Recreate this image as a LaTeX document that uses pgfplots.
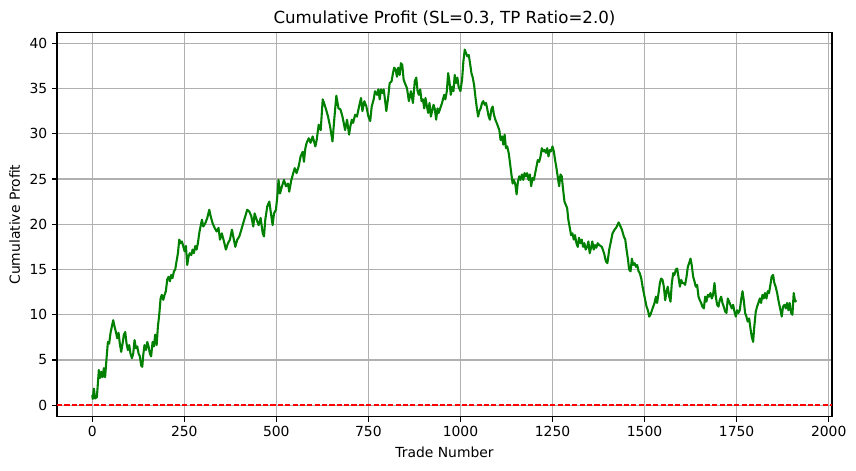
\documentclass[border=0pt]{standalone}
\usepackage{fontspec}
\setmainfont{DejaVu Sans}
\usepackage{pgfplots}
\pgfplotsset{compat=1.18}
\definecolor{gridgray}{HTML}{B0B0B0}
\definecolor{mplgreen}{HTML}{008000}
\definecolor{mplred}{HTML}{FF0000}
\begin{document}
\begin{tikzpicture}
\useasboundingbox (-41.04pt,-38.4pt) rectangle (575.28pt,300pt);
\begin{axis}[
  at={(0,0)}, anchor=south west,
  scale only axis, width=558pt, height=276.5pt,
  xmin=-95.6, xmax=2009, ymin=-1.26, ymax=41.17,
  xtick={0,250,...,2000}, ytick={0,5,...,40},
  grid=major, major grid style={color=gridgray, line width=0.8pt},
  axis line style={line width=0.8pt},
  tick style={black, line width=0.8pt}, tick align=outside, major tick length=3.5pt,
  tick pos=left,
  ticklabel style={font=\fontsize{10}{12}\selectfont},
  /pgf/number format/assume math mode=true,
  /pgf/number format/1000 sep={},
  scaled ticks=false,
  title={Cumulative Profit (SL=0.3, TP Ratio=2.0)},
  title style={font=\fontsize{12}{14}\selectfont, yshift=-4.3pt},
  xlabel={Trade Number}, ylabel={Cumulative Profit},
  label style={font=\fontsize{10}{12}\selectfont},
]
\addplot[draw=mplgreen, line width=1.5pt, line join=round, mark=none] coordinates {
(0,1.1) (1.5,0.7) (4.5,1.85) (8,0.75) (12.7,0.9) (15.4,2.4) (18,3.9) (20.8,3.0) (24.5,3.7) (28,3.1)
(31.7,4.1) (35,3.1) (39,5.2) (42.6,7.0) (46,6.8) (49.8,8.0) (53.4,8.7) (57,9.4) (60.7,8.7) (64.3,8.1)
(68,7.4) (71.6,8.0) (75,6.8) (78.8,5.9) (82.4,6.8) (86,7.8) (89.7,8.1) (93.3,6.8) (97,6.1) (100.5,6.65)
(104,5.7) (107.8,5.2) (111.4,5.7) (115,7.2) (118.7,6.3) (122.3,6.5) (126,5.7) (129.5,5.4) (133,4.4) (136,4.25)
(138.6,5.55) (142,6.65) (146,6.1) (149.5,7.0) (153,6.5) (156.7,5.7) (160,5.4) (164,7.0) (167.6,6.5) (171,7.8)
(175,6.65) (178.4,8.7) (182,10.0) (185.7,11.8) (189,12.2) (193,11.65) (196.5,12.2) (200,12.6) (203.8,13.9) (207.4,14.2)
(211,13.7) (214.7,14.4) (218,14.05) (222,14.8) (225.5,15.0) (229,15.9) (232.8,16.8) (236.4,18.3) (240,17.9) (243.7,18.1)
(247,17.6) (251,17.0) (254.5,17.6) (258,15.5) (261.8,16.45) (265,16.8) (269,16.6) (272.6,17.2) (276,16.8) (280,17.6)
(283.5,17.2) (287,17.9) (290.8,19.05) (294.4,19.8) (298,20.5) (301.6,19.75) (307,20.1) (312.5,20.7) (318,21.6) (321.6,20.9)
(327,20.1) (332.4,19.6) (338,19.2) (343,19.6) (347,18.3) (352,19.0) (357.8,18.1) (363,17.2) (368.7,17.9) (374,18.3)
(379.5,19.4) (383,18.65) (388.6,17.5) (394,18.3) (399.5,18.65) (405,19.4) (410,20.1) (415.8,20.9) (421,21.6) (426.6,21.4)
(432,20.9) (437.5,19.75) (441,21.2) (446.6,20.5) (452,19.9) (457.4,20.7) (463,19.0) (466.5,18.65) (470,20.5) (475.5,22.0)
(481,22.5) (486.4,20.9) (490,19.9) (493.7,21.2) (499,21.6) (502.7,23.1) (506,24.9) (510,23.4) (515.4,24.2) (520.8,24.9)
(526,24.2) (531.7,24.5) (535,23.6) (540.8,24.9) (546,25.65) (550,26.2) (555,25.65) (560.7,26.4) (566,27.5) (571.6,28.0)
(575,26.9) (578.8,28.4) (582.4,29.0) (588,29.5) (593,29.0) (598.7,29.7) (602,29.2) (606,28.6) (609.6,29.3) (615,31.0)
(620.5,30.4) (626,33.8) (629.5,33.4) (635,32.7) (640.4,31.9) (646,30.8) (652.5,29.15) (658,31.9) (663,34.2) (668.8,32.8)
(674,32.7) (679.6,31.9) (683,31.2) (686.8,30.4) (692,31.55) (697.6,29.9) (701,30.8) (705,31.55) (708.5,31.2) (714,32.1)
(719,31.9) (724.7,33.0) (730,33.95) (733.8,32.5) (739,33.6) (744.6,33.0) (750,31.9) (755,31.4) (759,33.0) (764.4,33.8)
(768,34.7) (773.5,34.3) (777,34.9) (780.7,33.8) (784.3,34.9) (788,34.5) (791.5,34.9) (795,33.8) (798.7,32.5) (804,34.1)
(807.8,35.6) (813,35.8) (816.8,36.7) (820,37.3) (824,37.1) (827.6,36.3) (831,37.3) (835,36.5) (838.4,37.8) (842,37.6)
(845.7,36.0) (849,35.6) (854.7,35.05) (860,33.6) (865.5,34.7) (871,33.4) (876,35.8) (880,36.2) (883.6,34.7) (887,34.3)
(890.8,34.9) (894.4,33.6) (898,33.8) (901.6,32.8) (905,33.95) (909,33.0) (912.5,32.3) (916,33.4) (919.7,31.9) (923,32.5)
(927,33.2) (930.5,32.7) (934,31.55) (937.7,32.8) (941,32.3) (945,32.8) (950,33.4) (955.8,34.3) (959,33.8) (963,34.7)
(966.6,36.7) (970,35.8) (973.8,34.3) (977.4,35.2) (981,34.7) (984.5,36.5) (988,35.6) (991.7,36.2) (995,35.2) (1000,34.7)
(1004.5,36.0) (1008,38.0) (1011.7,39.3) (1015,38.9) (1019,38.55) (1022.6,38.7) (1026,37.8) (1029.8,36.7) (1033.4,36.2) (1037,35.4)
(1040.6,34.1) (1044,33.0) (1048,31.9) (1051.4,32.5) (1055,32.8) (1058.7,33.4) (1062,33.6) (1066,33.2) (1069.5,33.4) (1073,32.7)
(1076.7,31.9) (1080,31.55) (1084,32.7) (1087.5,33.0) (1091,32.1) (1094.8,31.55) (1098.4,31.2) (1102,30.8) (1105.6,30.4) (1109,29.3)
(1113,29.7) (1116.4,28.8) (1120,29.9) (1123.6,28.4) (1127,28.6) (1130.9,27.9) (1134.5,26.8) (1138,25.65) (1141.7,24.5) (1145,24.9)
(1149,24.4) (1152.5,23.3) (1156,24.7) (1159.7,25.3) (1163,24.9) (1167,25.5) (1170.6,24.9) (1174,25.65) (1177.8,25.3) (1181,25.65)
(1185,24.9) (1188.6,25.5) (1192,24.2) (1195.9,25.1) (1199.5,24.9) (1203,25.65) (1206.7,26.4) (1210,27.1) (1213.9,26.9) (1217.5,27.5)
(1221,28.4) (1224.7,28.05) (1228,28.2) (1232,27.9) (1235.5,28.4) (1239,27.5) (1242.8,28.2) (1246,28.05) (1250,28.6) (1253.6,28.05)
(1257,27.1) (1260.8,26.2) (1264,25.3) (1268,24.2) (1271.7,25.5) (1275,25.3) (1278.9,23.8) (1282.5,22.5) (1286,22.15) (1289.7,21.8)
(1293,20.5) (1297,19.6) (1300.4,18.8) (1304,19.0) (1307.8,18.3) (1311,18.8) (1315,17.9) (1318.6,17.5) (1322,18.5) (1326,17.9)
(1329.5,18.3) (1333,17.5) (1336.6,17.9) (1340,17.2) (1344,17.5) (1347.5,18.1) (1351,16.8) (1354.7,17.4) (1358,18.1) (1362,17.2)
(1365.5,17.7) (1369,17.4) (1372.7,17.9) (1377,17.7) (1384,17.5) (1390,16.8) (1395,15.9) (1399,15.7) (1404,17.2) (1409.6,18.3)
(1413,19.0) (1418.6,19.4) (1424,19.7) (1429.5,20.2) (1433,19.9) (1438.5,19.4) (1444,18.6) (1447.6,18.3) (1451,17.2) (1455,16.1)
(1458,15.0) (1462,14.8) (1465.6,16.2) (1469,15.5) (1473,15.7) (1476.5,15.3) (1480,15.5) (1483.7,14.8) (1487,14.6) (1491,14.0)
(1494.6,13.1) (1498,12.4) (1501.8,11.6) (1505.4,10.9) (1509,10.5) (1512.7,9.8) (1516,10.0) (1520,10.5) (1523.5,10.9) (1527,11.3)
(1530.7,12.0) (1534,11.3) (1538,12.4) (1541.6,13.5) (1545,14.0) (1548.8,13.85) (1552.4,13.1) (1556,11.6) (1559.7,12.6) (1563,13.1)
(1567,12.0) (1570.5,11.45) (1574,13.5) (1577.8,14.6) (1581,14.4) (1585,15.0) (1588.6,15.1) (1592,14.2) (1596,13.1) (1599.5,13.85)
(1603,13.5) (1606.7,13.5) (1610,13.3) (1614,14.2) (1617.5,15.3) (1621,15.7) (1624.8,16.2) (1628,15.5) (1632,14.2) (1635.5,13.7)
(1639,13.1) (1642.7,13.3) (1646.5,12.0) (1650,11.6) (1653.7,11.3) (1657,10.9) (1661,10.7) (1664.5,12.0) (1668,11.45) (1671.8,12.2)
(1675.4,12.0) (1679,12.4) (1682.6,11.8) (1686,12.2) (1690,13.5) (1693.5,12.0) (1697,11.1) (1700.7,10.9) (1704,11.6) (1708,12.0)
(1711.5,11.3) (1715,10.9) (1718.8,10.35) (1722.4,10.2) (1726,11.8) (1729.7,11.45) (1733,11.1) (1737,10.7) (1740.5,11.1) (1744,10.35)
(1747.8,9.8) (1751.4,10.5) (1755,10.2) (1758.6,10.5) (1762,11.6) (1766,12.6) (1769.4,11.6) (1773,10.2) (1776.6,9.8) (1780,9.25)
(1784,9.6) (1787.5,8.5) (1791,7.6) (1794.8,7.0) (1798,8.7) (1802,10.35) (1805.6,10.9) (1809,11.3) (1813,11.8) (1816.5,11.3)
(1820,12.2) (1823.7,11.8) (1827,12.4) (1831,11.8) (1834.5,12.6) (1838,12.4) (1841.7,13.3) (1845,14.2) (1849,14.4) (1852.5,13.5)
(1856,13.1) (1860,12.4) (1863.5,11.6) (1867,10.9) (1870.7,10.2) (1872.5,9.8) (1876,10.9) (1880,11.1) (1883.4,10.7) (1887,11.3)
(1890.6,10.5) (1894,11.3) (1898,10.2) (1901.5,10.0) (1905,12.4) (1909,11.45) (1912,11.6)
};
\addplot[draw=mplred, line width=1.4pt, dash pattern=on 3.7pt off 1.6pt, mark=none] coordinates {(-95.6,0) (2009,0)};
\end{axis}
\end{tikzpicture}
\end{document}
